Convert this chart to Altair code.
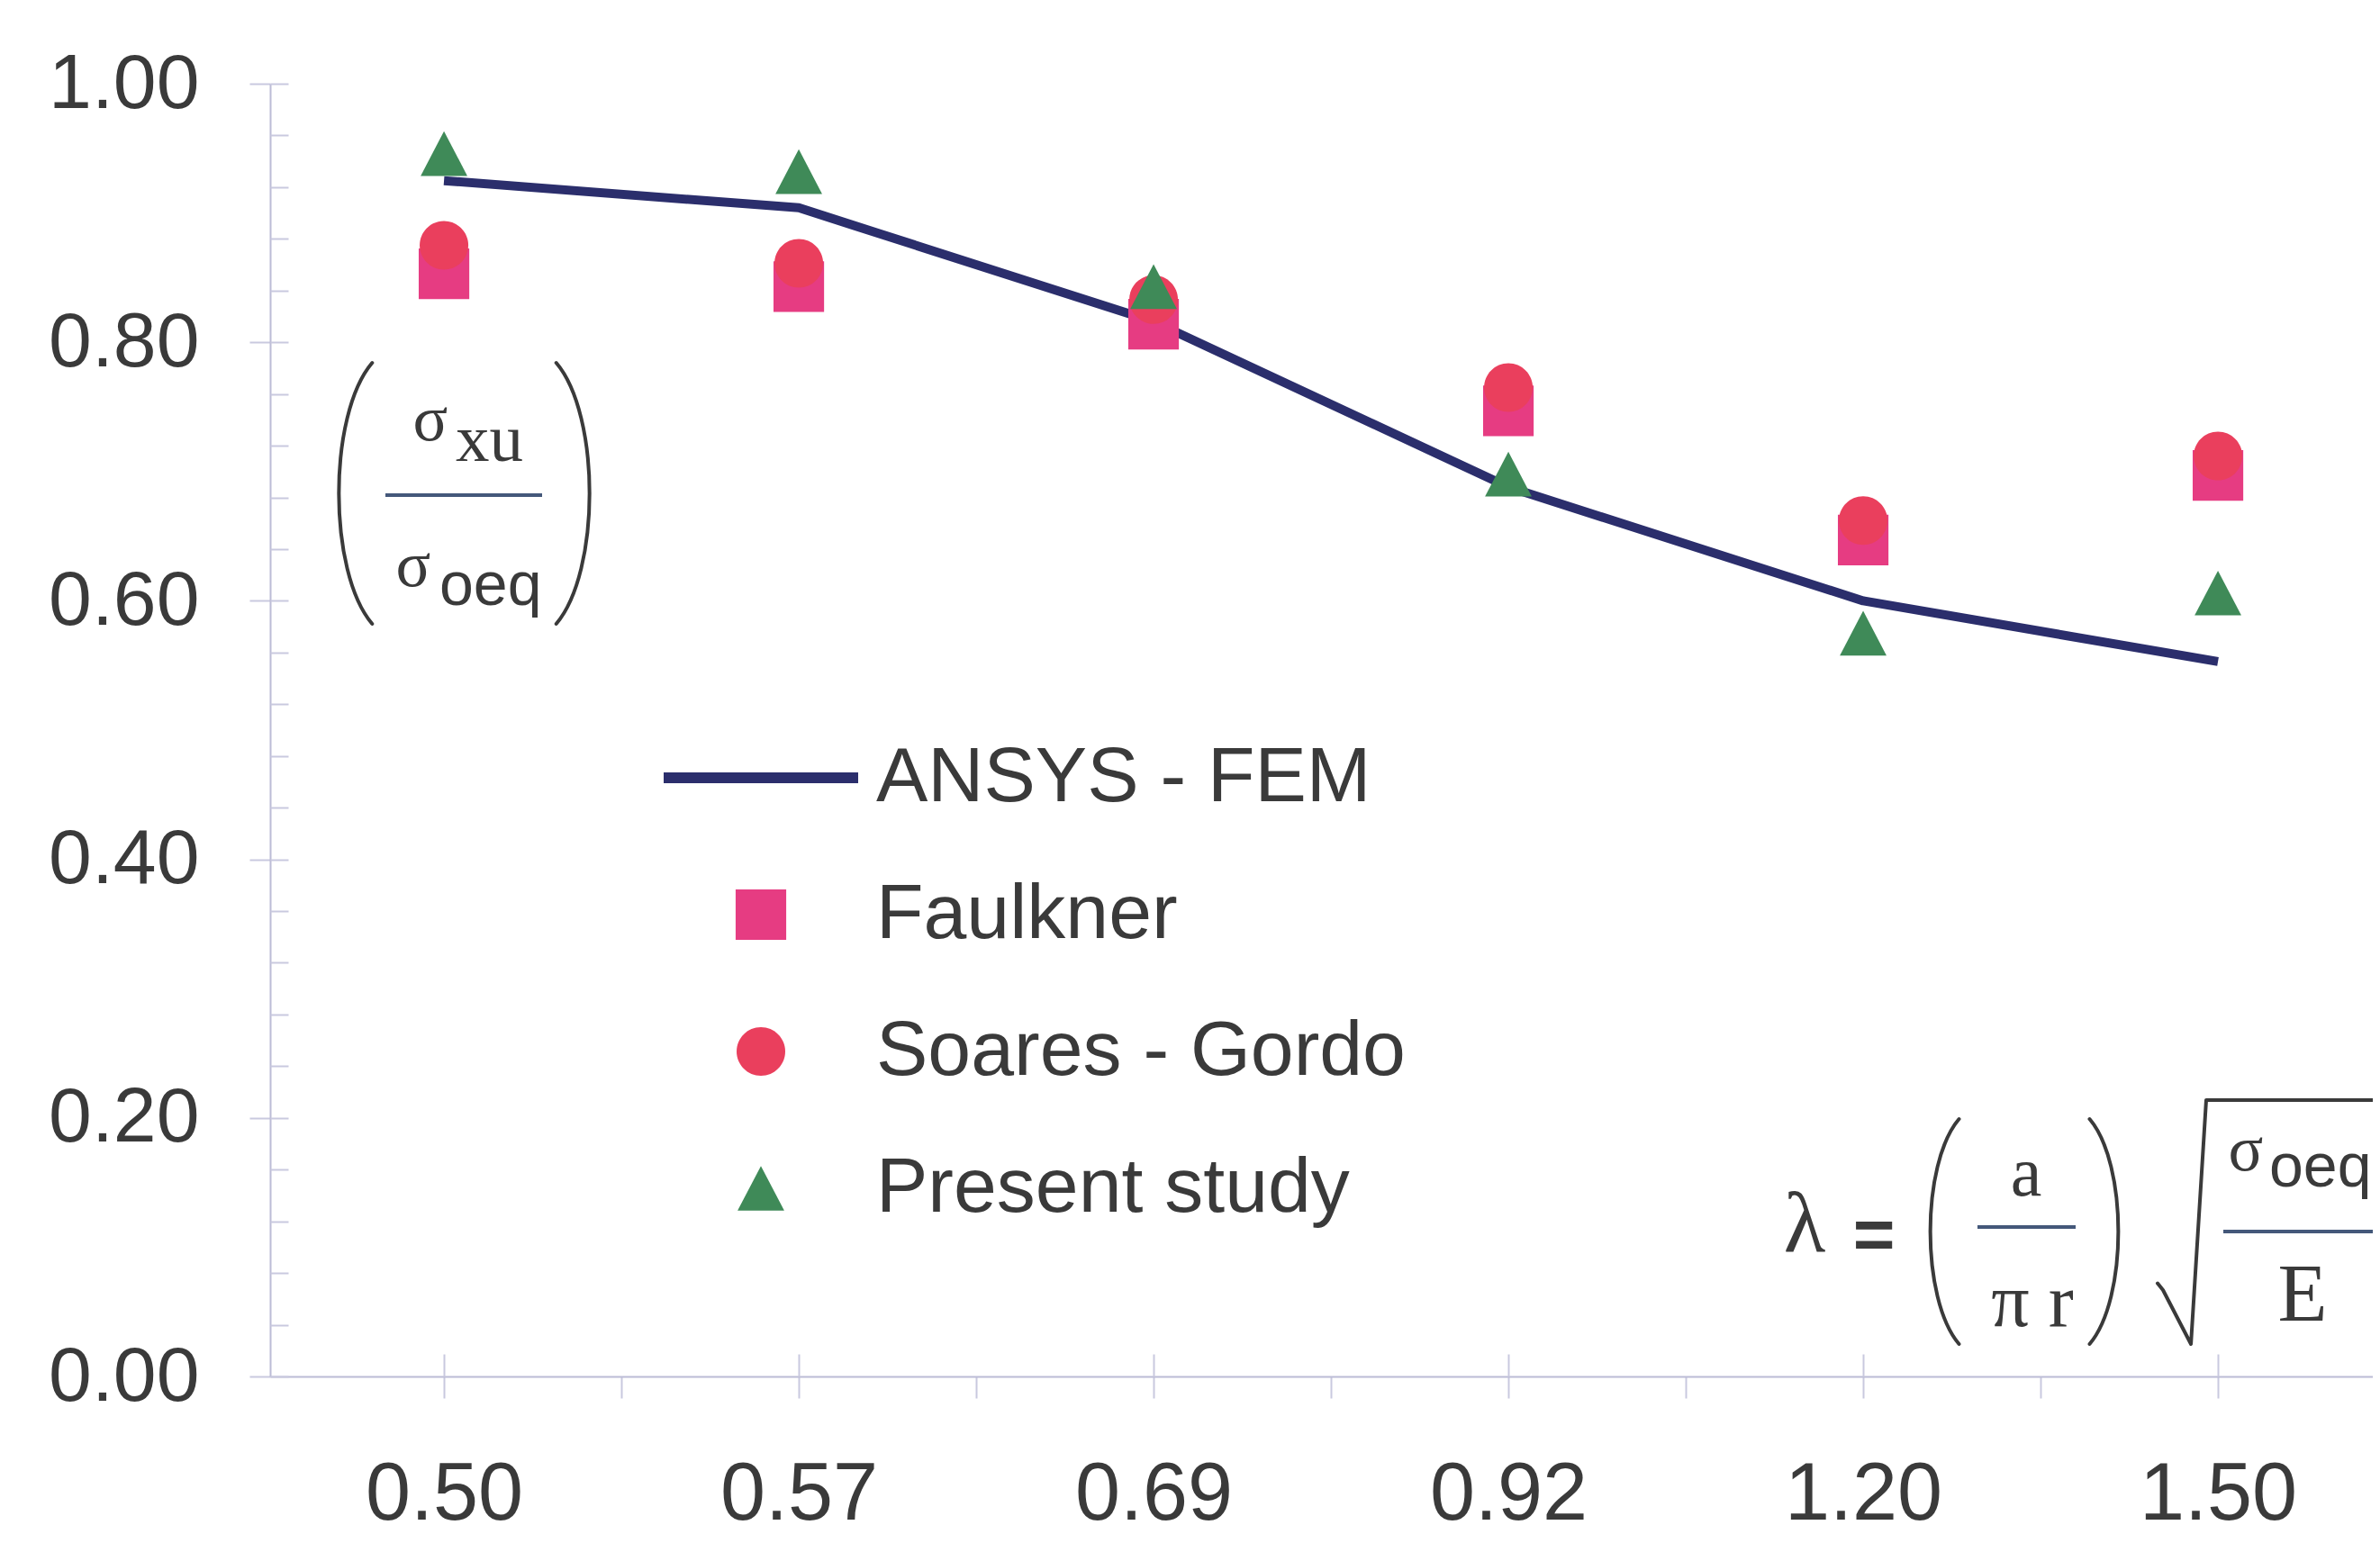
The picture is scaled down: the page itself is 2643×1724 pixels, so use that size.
import altair as alt
import pandas as pd

# ---------------- data ----------------
lambda_labels = ["0.50", "0.57", "0.69", "0.92", "1.20", "1.50"]
ansys_fem = [0.925, 0.904, 0.816, 0.688, 0.600, 0.553]
faulkner = [0.853, 0.843, 0.814, 0.747, 0.647, 0.697]
soares_gordo = [0.875, 0.861, 0.833, 0.765, 0.662, 0.712]
present_study = [0.946, 0.932, 0.843, 0.698, 0.575, 0.606]
series_names = ["ANSYS - FEM", "Faulkner", "Soares - Gordo", "Present study"]
y_major_ticks = [0.0, 0.2, 0.4, 0.6, 0.8, 1.0]
y_minor_ticks = [0.0, 0.04, 0.08, 0.12, 0.16, 0.2, 0.24, 0.28, 0.32, 0.36, 0.4,
                 0.44, 0.48, 0.52, 0.56, 0.6, 0.64, 0.68, 0.72, 0.76, 0.8,
                 0.84, 0.88, 0.92, 0.96, 1.0]
x_all_ticks = [0, 0.5, 1, 1.5, 2, 2.5, 3, 3.5, 4, 4.5, 5]
x_center_ticks = [0, 1, 2, 3, 4, 5]

idx = list(range(len(lambda_labels)))
line_df = pd.DataFrame({"idx": idx, "lam": lambda_labels, "value": ansys_fem})
pts_df = pd.concat([
    pd.DataFrame({"idx": idx, "lam": lambda_labels, "value": faulkner, "series": "Faulkner"}),
    pd.DataFrame({"idx": idx, "lam": lambda_labels, "value": soares_gordo, "series": "Soares - Gordo"}),
    pd.DataFrame({"idx": idx, "lam": lambda_labels, "value": present_study, "series": "Present study"}),
], ignore_index=True)
anno_df = pd.DataFrame({"k": [0]})

# ---------------- styles ----------------
TEXT = "#3a3a3a"
AXIS = "#bcbcd6"
TICK = "#c9c9df"
FRAC = "#44587a"
LINE = "#2b2e6c"
COLORS = [LINE, "#e63c82", "#ea3f5d", "#3f8a58"]
SANS = "Liberation Sans"
SERIF = "Liberation Serif"

PLOT_L, PLOT_T = 300, 93
W, H = 2335, 1436
STEP = 394.0
X0 = -0.49
XDOM = [X0, X0 + W / STEP]

SYM_SIZE = 216 * 216
shape_paths = [
    "M-1,-0.055H1V0.055H-1Z",
    "M-0.26,-0.26H0.26V0.26H-0.26Z",
    "M-0.25,0A0.25,0.25 0 1,0 0.25,0A0.25,0.25 0 1,0 -0.25,0Z",
    "M0,-0.23L0.24,0.23H-0.24Z",
]

js_labels = "[" + ",".join("'%s'" % s for s in lambda_labels) + "]"
x_label_expr = "datum.value %% 1 === 0 ? %s[datum.value] : ''" % js_labels

x_scale = alt.Scale(domain=XDOM, nice=False, zero=False)
y_scale = alt.Scale(domain=[0, 1], nice=False, zero=False)

x_axis = alt.Axis(orient="bottom", values=x_all_ticks, labelExpr=x_label_expr, title=None,
                  tickSize=24, tickColor=TICK, tickWidth=2, domainColor=AXIS, domainWidth=2,
                  labelFont=SANS, labelFontSize=90, labelColor=TEXT, labelPadding=63,
                  grid=False, labelFlush=False, labelOverlap=False)
y_axis = alt.Axis(orient="left", values=y_major_ticks, format=".2f", title=None,
                  tickSize=23, tickColor=TICK, tickWidth=2, domainColor=AXIS, domainWidth=2,
                  labelFont=SANS, labelFontSize=86, labelColor=TEXT, labelPadding=56,
                  grid=False, labelFlush=False, labelOverlap=False)

legend = alt.Legend(orient="none", legendX=437, legendY=728, title=None,
                    symbolSize=SYM_SIZE, symbolStrokeWidth=0, symbolOpacity=1,
                    clipHeight=86,
                    labelFont=SANS, labelFontSize=86, labelColor=TEXT, labelOffset=20,
                    labelLimit=2000, rowPadding=66, padding=0)

line = alt.Chart(line_df).mark_line(color=LINE, strokeWidth=10, strokeJoin="round").encode(
    x=alt.X("idx:Q", scale=x_scale, axis=x_axis),
    y=alt.Y("value:Q", scale=y_scale, axis=y_axis),
)

points = alt.Chart(pts_df).mark_point(filled=True, opacity=1, size=SYM_SIZE, strokeWidth=0).encode(
    x=alt.X("idx:Q", scale=x_scale, axis=x_axis),
    y=alt.Y("value:Q", scale=y_scale, axis=y_axis),
    color=alt.Color("series:N", scale=alt.Scale(domain=series_names, range=COLORS), legend=legend),
    shape=alt.Shape("series:N", scale=alt.Scale(domain=series_names, range=shape_paths), legend=legend),
    order=alt.Order("order_key:Q"),
).transform_calculate(
    order_key="indexof(%s, datum.series)" % ("[" + ",".join("'%s'" % s for s in series_names) + "]")
)


def txt(text, x, y, size, font, align="left", weight="normal"):
    return alt.Chart(anno_df).mark_text(
        text=text, fontSize=size, font=font, align=align, baseline="alphabetic",
        color=TEXT, fontWeight=weight
    ).encode(x=alt.value(x - PLOT_L), y=alt.value(y - PLOT_T))


def rule(x1, x2, y, width=4, color=FRAC):
    return alt.Chart(anno_df).mark_rule(color=color, strokeWidth=width).encode(
        x=alt.value(x1 - PLOT_L), x2=alt.value(x2 - PLOT_L), y=alt.value(y - PLOT_T))


def path(shape, x, y, half, width=4):
    return alt.Chart(anno_df).mark_point(
        shape=shape, size=(2 * half) ** 2, filled=False, opacity=1,
        color=TEXT, strokeWidth=width, strokeCap="round", strokeJoin="round"
    ).encode(x=alt.value(x - PLOT_L), y=alt.value(y - PLOT_T))


LPAREN = "M0.14,-1 C-0.2,-0.6 -0.2,0.6 0.14,1"
RPAREN = "M-0.14,-1 C0.2,-0.6 0.2,0.6 -0.14,1"
SQRT = "M-0.2,0.45L-0.16,0.5L0.047,0.9L0.16,-0.907H1.6"

annos = [
    # y-axis title: (sigma_xu / sigma_oeq)
    path(LPAREN, 393, 548, 145),
    path(RPAREN, 638, 548, 145),
    txt("σ", 478, 489, 72, SERIF, align="center"),
    txt("xu", 506, 512, 75, SERIF),
    rule(428, 602, 550),
    txt("σ", 459, 651, 72, SERIF, align="center"),
    txt("oeq", 488, 672, 68, SANS),
    # lambda formula
    txt("λ", 2004, 1390, 96, SERIF, align="center"),
    txt("=", 2081, 1398, 80, SANS, align="center", weight="bold"),
    path(LPAREN, 2158, 1368, 125),
    path(RPAREN, 2338, 1368, 125),
    txt("a", 2250, 1328, 78, SERIF, align="center"),
    rule(2196, 2305, 1363),
    txt("π r", 2257, 1473, 84, SERIF, align="center"),
    path(SQRT, 2426, 1358, 150),
    txt("σ", 2494, 1300, 72, SERIF, align="center"),
    txt("oeq", 2520, 1318, 68, SANS),
    rule(2469, 2700, 1368),
    txt("E", 2557, 1467, 90, SERIF, align="center"),
]

main = alt.layer(line, points, *annos)

# second pair of axes: inner half of the tick marks
tick_x_scale = alt.Scale(domain=XDOM, nice=False, zero=False)
tick_y_scale = alt.Scale(domain=[0, 1], nice=False, zero=False)
ticks = alt.Chart(line_df).mark_point(opacity=0).encode(
    x=alt.X("idx:Q", scale=tick_x_scale,
            axis=alt.Axis(orient="bottom", values=x_center_ticks, offset=-25, tickSize=25,
                          tickColor=TICK, tickWidth=2, labels=False, domain=False,
                          grid=False, title=None)),
    y=alt.Y("value:Q", scale=tick_y_scale,
            axis=alt.Axis(orient="left", values=y_minor_ticks, offset=-20, tickSize=20,
                          tickColor=TICK, tickWidth=2, labels=False, domain=False,
                          grid=False, title=None)),
)

chart = alt.layer(main, ticks).resolve_scale(x="independent", y="independent").properties(
    width=W, height=H,
    padding={"left": PLOT_L - 8, "top": PLOT_T - 8, "right": 0, "bottom": 180},
    autosize=alt.AutoSizeParams(type="none"),
    background="white",
).configure_view(stroke=None)

chart.save("out.html", embed_options={"renderer": "svg", "actions": False})
